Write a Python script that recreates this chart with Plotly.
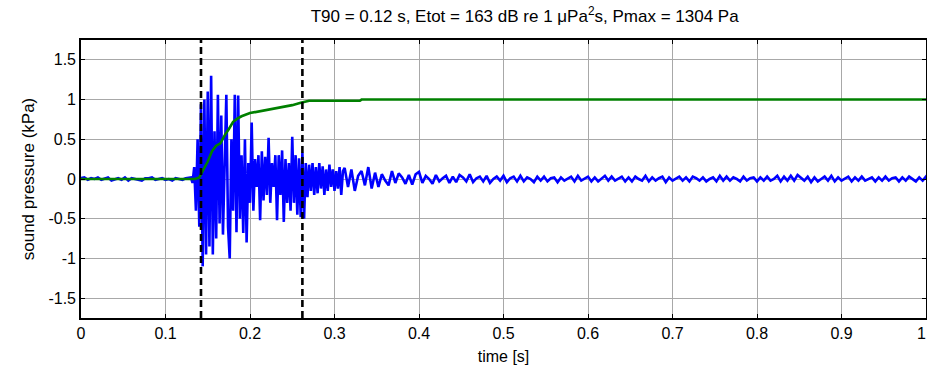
import plotly.graph_objects as go

# ---------------- data ----------------
# pre-signal noise: t = 0 .. 0.128, dt = 0.004
pre_start, pre_step = 0.0, 0.004
pre_vals = [0.01, 0.02, -0.01, 0.01, 0.0, 0.02, -0.01, 0.01, 0.02, -0.02, 0.0, 0.01,
            -0.01, 0.02, -0.02, 0.01, 0.0, -0.01, -0.02, 0.01, 0.01, 0.02, -0.01, 0.0,
            0.01, -0.01, 0.0, -0.02, 0.01, 0.0, -0.01, 0.01, 0.02]

# burst: t = 0.130 .. 0.310, dt = 0.002
burst_start, burst_step = 0.130, 0.002
burst_vals = [0.02, -0.05, 0.15, -0.4, 0.5, -0.6, 0.94, -1.1, 1.0, -0.95,
              1.1, -0.85, 1.30, -0.95, 0.6, -0.75, 1.06, -0.56, 0.8, -0.7,
              0.3, 1.06, -0.6, -1.0, 0.5, -0.4, 1.06, -0.67, 1.05, -0.5,
              0.3, -0.68, 0.5, -0.8, 0.2, -0.3, 0.71, -0.4, 0.25, -0.1,
              0.3, -0.52, 0.35, -0.27, 0.28, -0.2, 0.52, -0.3, 0.2, -0.1,
              0.3, -0.52, 0.3, -0.2, 0.36, -0.54, 0.25, -0.3, 0.2, -0.4,
              0.53, -0.3, 0.3, -0.45, 0.26, -0.48, 0.33, -0.5, 0.2, -0.23,
              0.18, -0.15, 0.2, -0.2, 0.15, -0.18, 0.2, -0.12, 0.16, -0.2,
              0.12, -0.15, 0.18, -0.1, 0.12, -0.15, 0.1, -0.12, 0.15, -0.2,
              0.1]

# tail: t = 0.312 .. 1.0, dt = 0.004
tail_start, tail_step = 0.312, 0.004
tail_vals = [0.14, -0.1, 0.12, -0.15, 0.04, 0.1, -0.08, 0.15, -0.12, 0.08,
             -0.1, 0.06, -0.02, -0.08, 0.1, -0.05, 0.07, 0.02, -0.06, 0.05, -0.07, 0.06,
             0.09, -0.05, 0.04, 0.0, -0.06, 0.05, -0.03, 0.01, 0.04, -0.05, 0.03, -0.04,
             0.05, 0.02, -0.03, 0.06, -0.04, 0.01, 0.03, -0.03, 0.04, -0.05, 0.0, 0.03,
             -0.02, 0.04, -0.04, 0.01, 0.03, -0.03, 0.04, -0.03, 0.02, 0.0, -0.04, 0.03,
             -0.02, 0.03, -0.03, 0.01, 0.02, -0.04, 0.02, -0.02, 0.0, 0.03, -0.03, 0.04,
             -0.02, 0.01, 0.03, -0.03, 0.02, -0.03, 0.0, 0.04, -0.02, 0.03, -0.02, 0.01,
             0.03, -0.03, 0.02, -0.03, 0.03, 0.0, -0.02, 0.04, -0.03, 0.02, -0.02, 0.01,
             0.03, -0.04, 0.02, -0.02, 0.0, 0.03, -0.02, 0.02, -0.03, 0.03, 0.01, -0.02,
             0.02, -0.03, 0.0, 0.02, -0.03, 0.04, -0.02, 0.03, -0.02, 0.02, 0.0, -0.03,
             0.03, -0.02, 0.01, 0.02, -0.03, 0.02, -0.02, 0.03, -0.02, 0.0, 0.04, -0.03,
             0.03, -0.02, 0.04, -0.02, 0.05, 0.01, -0.02, 0.03, -0.04, 0.02, -0.03, 0.0,
             0.03, -0.02, 0.04, -0.03, 0.02, -0.02, 0.01, 0.03, -0.03, 0.02, -0.02, 0.03,
             -0.02, 0.0, 0.02, -0.03, 0.02, -0.02, 0.03, -0.02, 0.01, 0.02, -0.03, 0.02,
             -0.02, 0.03, 0.0, -0.03, 0.02, -0.02, 0.03, -0.02, 0.01]

# normalised cumulative energy (green)
energy_t = [0.0, 0.135, 0.14, 0.145, 0.15, 0.155, 0.16, 0.165, 0.17, 0.175, 0.18,
            0.185, 0.19, 0.2, 0.21, 0.22, 0.23, 0.24, 0.25, 0.26, 0.27, 0.33, 0.332, 1.0]
energy_v = [0.0, 0.0, 0.02, 0.12, 0.22, 0.35, 0.42, 0.45, 0.55, 0.63, 0.72,
            0.76, 0.79, 0.83, 0.85, 0.87, 0.89, 0.91, 0.93, 0.96, 0.985, 0.985, 1.0, 1.0]

# T90 window bounds
t90_bounds = [0.142, 0.262]

x_ticks = [0, 0.1, 0.2, 0.3, 0.4, 0.5, 0.6, 0.7, 0.8, 0.9, 1]
x_ticklabels = ["0", "0.1", "0.2", "0.3", "0.4", "0.5", "0.6", "0.7", "0.8", "0.9",
                "1\u00a0\u00a0"]
y_ticks = [-1.5, -1, -0.5, 0, 0.5, 1, 1.5]
y_ticklabels = ["-1.5", "-1", "-0.5", "0", "0.5", "1", "1.5"]

title_text = "T90 = 0.12 s, Etot = 163 dB re 1 \u03bcPa<sup>2</sup>s, Pmax = 1304 Pa"

# ---------------- build ----------------
def seg_times(start, step, n):
    return [round(start + step * i, 4) for i in range(n)]

t_sig = (seg_times(pre_start, pre_step, len(pre_vals))
         + seg_times(burst_start, burst_step, len(burst_vals))
         + seg_times(tail_start, tail_step, len(tail_vals)))
p_sig = pre_vals + burst_vals + tail_vals

FONT = "Liberation Sans, Arial, sans-serif"

fig = go.Figure()
fig.add_trace(go.Scatter(x=t_sig, y=p_sig, mode="lines",
                         line=dict(color="#0000ff", width=2.6), hoverinfo="skip"))
fig.add_trace(go.Scatter(x=energy_t, y=energy_v, mode="lines",
                         line=dict(color="#008000", width=2.6), hoverinfo="skip"))
for tb in t90_bounds:
    fig.add_trace(go.Scatter(x=[tb, tb], y=[-1.75, 1.75], mode="lines",
                             line=dict(color="black", width=2.6, dash="7px,4px"),
                             hoverinfo="skip"))

axis_common = dict(
    showline=True, linecolor="black", linewidth=1.6, mirror="ticks",
    ticks="inside", ticklen=4, tickcolor="black", tickwidth=1,
    showgrid=True, gridcolor="#a8a8a8", gridwidth=1,
    zeroline=False, ticklabeloverflow="allow",
    tickfont=dict(family=FONT, size=16, color="black"),
)

fig.update_layout(
    width=927, height=374,
    margin=dict(l=81, r=1, t=40, b=56, autoexpand=False),
    paper_bgcolor="white", plot_bgcolor="white",
    showlegend=False,
    title=dict(text=title_text, x=0.566, xanchor="center", y=0.957, yanchor="middle",
               font=dict(family=FONT, size=17, color="black")),
    xaxis=dict(range=[0, 1], tickvals=x_ticks, ticktext=x_ticklabels,
               title=dict(text="time [s]", font=dict(family=FONT, size=16, color="black"),
                          standoff=10),
               **axis_common),
    yaxis=dict(range=[-1.75, 1.75], tickvals=y_ticks, ticktext=y_ticklabels,
               title=dict(text="sound pressure (kPa)",
                          font=dict(family=FONT, size=17, color="black"), standoff=9),
               **axis_common),
)

fig.write_html("out.html", config={"displayModeBar": False},
               post_script="document.body.style.margin='0';document.body.style.padding='0';")
